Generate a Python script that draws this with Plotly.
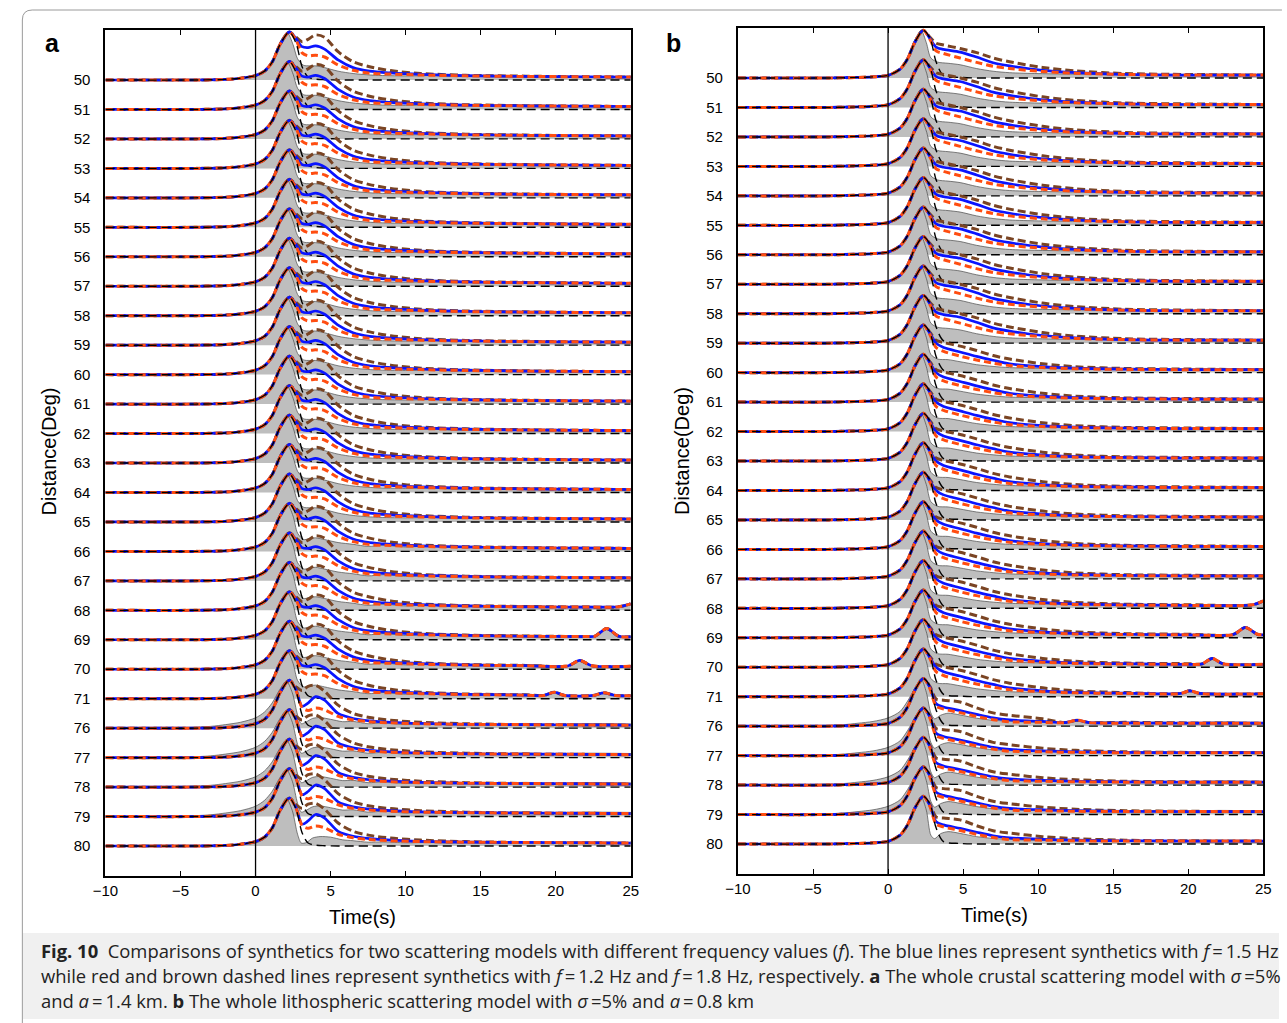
import plotly.graph_objects as go

W, H = 1287, 1023

# ---------------- data ----------------
distances = [50, 51, 52, 53, 54, 55, 56, 57, 58, 59, 60, 61, 62, 63, 64, 65,
             66, 67, 68, 69, 70, 71, 76, 77, 78, 79, 80]
time_ticks = [-10, -5, 0, 5, 10, 15, 20, 25]
time_labels = ["\u221210", "\u22125", "0", "5", "10", "15", "20", "25"]

# ---- panel a : synthetics (amplitude in units of trace spacing) ----
a_rise_t = [-10, -4, -2, -1, 0, 0.6, 1.1, 1.65]
a_rise = [0, 0, 0.02, 0.06, 0.15, 0.3, 0.6, 1.22]
a_tail_t = [2.25, 2.7, 3.1, 3.5, 4.0, 4.6, 5.5, 6.5, 7.6, 9, 11, 14, 18, 22, 25]
a_black = [1.63, 1.25, 0.45, 0.1, 0.03, 0.01, 0, 0, 0, 0, 0, 0, 0, 0, 0]
a_blue_near = [1.63, 1.4, 1.13, 1.1, 1.16, 1.05, 0.68, 0.42, 0.3, 0.24, 0.19, 0.15, 0.12, 0.11, 0.1]
a_blue_far = [1.63, 1.3, 0.74, 0.85, 1.07, 0.95, 0.5, 0.33, 0.25, 0.2, 0.16, 0.13, 0.12, 0.11, 0.1]
a_red_near = [1.63, 1.35, 0.92, 0.82, 0.84, 0.78, 0.51, 0.33, 0.23, 0.2, 0.17, 0.14, 0.12, 0.11, 0.1]
a_red_far = [1.63, 1.28, 0.7, 0.6, 0.68, 0.62, 0.4, 0.28, 0.22, 0.18, 0.15, 0.13, 0.12, 0.11, 0.1]
a_brown_near = [1.63, 1.45, 1.3, 1.38, 1.53, 1.45, 0.96, 0.62, 0.45, 0.32, 0.22, 0.16, 0.13, 0.11, 0.1]
a_brown_far = [1.63, 1.4, 1.28, 1.42, 1.45, 1.25, 0.78, 0.5, 0.36, 0.27, 0.2, 0.15, 0.12, 0.11, 0.1]
a_synth_far = [76, 77, 78, 79, 80]

# ---- panel a : observed envelopes ----
a_gray1_t = [-10, -4, -2, -1, 0, 0.6, 1.1, 1.65, 2.1, 2.5, 2.8, 3.2, 3.6, 4.0, 4.6, 5.5, 6.5, 8, 10, 12, 13, 16, 20, 25]
a_gray1 = [0, 0.01, 0.04, 0.08, 0.17, 0.3, 0.65, 1.3, 1.62, 1.2, 0.72, 0.5, 0.48, 0.48, 0.42, 0.3, 0.22, 0.16, 0.14, 0.15, 0.12, 0.13, 0.11, 0.12]
a_gray2_t = [-10, -4, -2, -1, 0, 0.6, 1.1, 1.65, 2.1, 2.5, 2.8, 3.2, 3.6, 4.0, 4.6, 5.5, 6.5, 7.5, 8.5, 10, 11.5, 13, 14.5, 16, 18, 20, 22, 25]
a_gray2 = [0, 0.01, 0.04, 0.08, 0.17, 0.3, 0.65, 1.3, 1.62, 1.2, 0.62, 0.4, 0.44, 0.46, 0.4, 0.3, 0.24, 0.17, 0.21, 0.15, 0.18, 0.13, 0.17, 0.12, 0.15, 0.12, 0.14, 0.12]
a_gray3_t = [-10, -5, -3, -2, -1, 0, 0.6, 1.1, 1.6, 2.05, 2.45, 2.8, 3.05, 3.4, 3.8, 4.3, 5.0, 5.8, 6.5, 7.5, 8.5, 10, 11.5, 13, 14.5, 16, 18, 20, 22, 25]
a_gray3 = [0, 0.01, 0.06, 0.12, 0.2, 0.35, 0.55, 0.85, 1.3, 1.6, 1.2, 0.45, 0.15, 0.22, 0.33, 0.36, 0.3, 0.22, 0.23, 0.15, 0.18, 0.12, 0.16, 0.11, 0.15, 0.12, 0.16, 0.12, 0.15, 0.14]
a_gray4 = [0, 0, 0.01, 0.03, 0.06, 0.1, 0.25, 0.6, 1.2, 1.62, 1.2, 0.4, 0.1, 0.12, 0.27, 0.32, 0.3, 0.21, 0.18, 0.13, 0.14, 0.11, 0.12, 0.1, 0.12, 0.1, 0.11, 0.1, 0.11, 0.1]
a_gray2_set = [66, 67, 68, 69, 70, 71]
a_gray3_set = [76, 77, 78, 79]
a_gray4_set = [80]

# ---- panel b : synthetics ----
b_rise_t = [-10, -4, -2, -1, 0, 0.8, 1.3, 1.8]
b_rise = [0, 0, 0.02, 0.04, 0.09, 0.3, 0.65, 1.23]
b_tail_t = [2.35, 2.8, 3.2, 3.7, 4.8, 5.9, 7.0, 8.1, 10.3, 12.5, 15.8, 20, 25]
b_black = [1.62, 1.35, 0.55, 0.08, 0.02, 0, 0, 0, 0, 0, 0, 0, 0]
b_blue_top = [1.62, 1.33, 1.05, 0.97, 0.88, 0.71, 0.52, 0.41, 0.26, 0.18, 0.12, 0.1, 0.1]
b_blue_mid = [1.62, 1.32, 1.0, 0.85, 0.7, 0.55, 0.42, 0.3, 0.2, 0.15, 0.12, 0.1, 0.1]
b_blue_far = [1.62, 1.3, 0.76, 0.65, 0.53, 0.4, 0.28, 0.21, 0.16, 0.13, 0.11, 0.1, 0.1]
b_red_top = [1.62, 1.3, 0.92, 0.83, 0.68, 0.53, 0.4, 0.32, 0.22, 0.16, 0.12, 0.1, 0.1]
b_red_mid = [1.62, 1.28, 0.85, 0.72, 0.56, 0.43, 0.32, 0.24, 0.17, 0.13, 0.11, 0.1, 0.1]
b_red_far = [1.62, 1.26, 0.68, 0.58, 0.46, 0.33, 0.22, 0.15, 0.13, 0.11, 0.1, 0.1, 0.1]
b_brown_top = [1.62, 1.38, 1.18, 1.12, 1.0, 0.86, 0.68, 0.55, 0.36, 0.24, 0.15, 0.12, 0.1]
b_brown_mid = [1.62, 1.36, 1.1, 1.02, 0.9, 0.75, 0.58, 0.46, 0.3, 0.2, 0.14, 0.12, 0.1]
b_brown_far = [1.62, 1.34, 0.92, 0.88, 0.82, 0.62, 0.45, 0.37, 0.25, 0.18, 0.13, 0.11, 0.1]
b_synth_mid = [60, 61, 62, 63, 64, 65, 66, 67, 68, 69, 70, 71]
b_synth_far = [76, 77, 78, 79, 80]

# ---- panel b : observed envelopes ----
b_gray1_t = [-10, -4, -2, -1, 0, 0.8, 1.3, 1.8, 2.2, 2.55, 2.85, 3.3, 4.0, 4.8, 5.9, 7.0, 8.1, 10, 13, 16, 20, 25]
b_gray_top = [0, 0.01, 0.03, 0.05, 0.1, 0.32, 0.7, 1.3, 1.62, 1.2, 0.68, 0.54, 0.5, 0.45, 0.32, 0.23, 0.18, 0.15, 0.13, 0.12, 0.11, 0.12]
b_gray_mid = [0, 0.01, 0.03, 0.05, 0.1, 0.32, 0.7, 1.3, 1.62, 1.2, 0.62, 0.46, 0.44, 0.37, 0.27, 0.21, 0.17, 0.15, 0.12, 0.13, 0.11, 0.12]
b_gray3_t = [-10, -5, -3, -2, -1, 0, 0.8, 1.3, 1.8, 2.2, 2.55, 2.85, 3.1, 3.5, 4.0, 4.8, 5.9, 7.0, 8.1, 9.5, 11, 12.5, 14, 16, 18, 20, 22, 25]
b_gray3 = [0, 0.01, 0.05, 0.1, 0.16, 0.28, 0.5, 0.85, 1.3, 1.6, 1.15, 0.45, 0.25, 0.37, 0.44, 0.38, 0.27, 0.2, 0.17, 0.14, 0.16, 0.12, 0.15, 0.11, 0.14, 0.11, 0.14, 0.12]
b_gray4 = [0, 0, 0.01, 0.02, 0.04, 0.08, 0.3, 0.7, 1.28, 1.6, 1.15, 0.3, 0.18, 0.35, 0.42, 0.36, 0.25, 0.19, 0.16, 0.13, 0.14, 0.11, 0.13, 0.1, 0.12, 0.1, 0.11, 0.1]
b_gray_mid_set = [60, 61, 62, 63, 64, 65, 66, 67, 68, 69, 70, 71]
b_gray3_set = [76, 77, 78, 79]
b_gray4_set = [80]

# late arrivals seen on individual traces: (time, amplitude)
a_late = {
    68: [(24.2, 0.12), (25, 0.22)],
    69: [(22.6, 0.12), (23.4, 0.38), (24.2, 0.12)],
    70: [(20.8, 0.11), (21.6, 0.3), (22.4, 0.12)],
    71: [(19.2, 0.11), (19.9, 0.22), (20.6, 0.11), (22.5, 0.11), (23.2, 0.2), (24.0, 0.11)],
}
b_late = {
    68: [(24.3, 0.12), (25, 0.25)],
    69: [(23.0, 0.11), (23.8, 0.35), (24.6, 0.12)],
    70: [(20.9, 0.11), (21.6, 0.3), (22.3, 0.12)],
    71: [(19.5, 0.11), (20.1, 0.2), (20.8, 0.11)],
    76: [(11.8, 0.12), (12.6, 0.2), (13.4, 0.12)],
}

# ---------------- helpers ----------------
def merge(times, amps, extra):
    if not extra:
        return list(times), list(amps)
    lo, hi = extra[0][0], extra[-1][0]
    pts = [(t, a) for t, a in zip(times, amps) if t < lo or t > hi] + list(extra)
    pts.sort()
    return [p[0] for p in pts], [p[1] for p in pts]


GRAY_FILL = "#BEBEBE"
GRAY_LINE = "#4a4a4a"
BLUE = "#0A14FF"
RED = "#FF4D10"
BROWN = "#7A4423"

fig = go.Figure()


def add_trace_set(xa, ya, base, gray_t, gray_a, rise_t, rise, tail_t, black, blue, red, brown, late):
    gt, ga = merge(gray_t, gray_a, late)
    fig.add_trace(go.Scatter(x=[-10, 25], y=[base, base], mode="lines",
                             line=dict(width=0, color=GRAY_FILL), hoverinfo="skip",
                             showlegend=False, xaxis=xa, yaxis=ya))
    fig.add_trace(go.Scatter(x=gt, y=[base + v for v in ga], mode="lines",
                             line=dict(color=GRAY_LINE, width=0.7, shape="spline", smoothing=0.8),
                             fill="tonexty", fillcolor=GRAY_FILL, hoverinfo="skip",
                             showlegend=False, xaxis=xa, yaxis=ya))
    st = rise_t + tail_t
    for vals, color, width, dash, use_late in [
        (brown, BROWN, 3.0, "8px,4px", True),
        (blue, BLUE, 2.7, "solid", True),
        (red, RED, 3.0, "7px,4px", True),
        (black, "black", 1.4, "9px,5px", False),
    ]:
        tt, vv = merge(st, rise + vals, late if use_late else None)
        fig.add_trace(go.Scatter(x=tt, y=[base + v for v in vv], mode="lines",
                                 line=dict(color=color, width=width, dash=dash,
                                           shape="spline", smoothing=0.8),
                                 hoverinfo="skip", showlegend=False, xaxis=xa, yaxis=ya))


for k, d in enumerate(distances):
    base = -k
    if d in a_gray4_set:
        gt, ga = a_gray3_t, a_gray4
    elif d in a_gray3_set:
        gt, ga = a_gray3_t, a_gray3
    elif d in a_gray2_set:
        gt, ga = a_gray2_t, a_gray2
    else:
        gt, ga = a_gray1_t, a_gray1
    if d in a_synth_far:
        blue, red, brown = a_blue_far, a_red_far, a_brown_far
    else:
        blue, red, brown = a_blue_near, a_red_near, a_brown_near
    add_trace_set("x", "y", base, gt, ga, a_rise_t, a_rise, a_tail_t, a_black,
                  blue, red, brown, a_late.get(d))
for k, d in enumerate(distances):
    base = -k
    if d in b_gray4_set:
        gt, ga = b_gray3_t, b_gray4
    elif d in b_gray3_set:
        gt, ga = b_gray3_t, b_gray3
    elif d in b_gray_mid_set:
        gt, ga = b_gray1_t, b_gray_mid
    else:
        gt, ga = b_gray1_t, b_gray_top
    if d in b_synth_far:
        blue, red, brown = b_blue_far, b_red_far, b_brown_far
    elif d in b_synth_mid:
        blue, red, brown = b_blue_mid, b_red_mid, b_brown_mid
    else:
        blue, red, brown = b_blue_top, b_red_top, b_brown_top
    add_trace_set("x2", "y2", base, gt, ga, b_rise_t, b_rise, b_tail_t, b_black,
                  blue, red, brown, b_late.get(d))


def px(x):
    return x / W


def py(y):
    return 1 - y / H


yrange = [-(len(distances) - 1) - 1.018, 1.697]
tickfont = dict(family="Liberation Sans, Arial, sans-serif", size=15, color="black")

xcommon = dict(range=[-10, 25], tickvals=time_ticks, ticktext=time_labels, ticks="inside",
               ticklen=5, tickwidth=1, tickcolor="black", showline=True, linewidth=2,
               linecolor="black", mirror="ticks", showgrid=False, zeroline=False,
               tickfont=tickfont, fixedrange=True)
ycommon = dict(range=yrange, tickvals=[-k for k in range(len(distances))],
               ticktext=[str(d) for d in distances], ticks="", showline=True, linewidth=2,
               linecolor="black", mirror=True, showgrid=False, zeroline=False,
               tickfont=tickfont, ticklabelstandoff=10, fixedrange=True)

fig.update_layout(
    width=W, height=H, margin=dict(l=0, r=0, t=0, b=0),
    paper_bgcolor="white", plot_bgcolor="white", showlegend=False,
    xaxis=dict(domain=[px(94), px(628)], anchor="y", **xcommon),
    yaxis=dict(domain=[py(876), py(30)], anchor="x", **ycommon),
    xaxis2=dict(domain=[px(737), px(1271)], anchor="y2", **xcommon),
    yaxis2=dict(domain=[py(874), py(28)], anchor="x2", **ycommon),
)

shapes = []
shapes.append(dict(type="rect", xref="paper", yref="paper", x0=px(10), x1=1.0,
                   y0=py(1019), y1=py(933), fillcolor="#F0F0F0", line=dict(width=0), layer="below"))
r = 10
shapes.append(dict(type="path", xref="paper", yref="paper",
                   path=(f"M {px(9.5)},{py(1023)} L {px(9.5)},{py(10 + r)} "
                         f"Q {px(9.5)},{py(10)} {px(9.5 + r)},{py(10)} L {px(1290)},{py(10)}"),
                   line=dict(color="#9a9a9a", width=1), layer="above"))
for xr, yr in [("x", "y domain"), ("x2", "y2 domain")]:
    shapes.append(dict(type="line", xref=xr, yref=yr, x0=0, x1=0, y0=0, y1=1,
                       line=dict(color="black", width=1.3), layer="above"))
fig.update_layout(shapes=shapes)

lab = dict(family="Liberation Sans, Arial, sans-serif", size=20, color="black")
ann = []


def label(x, y, text, font, angle=0):
    ann.append(dict(x=px(x), y=py(y), xref="paper", yref="paper", text=text, showarrow=False,
                    xanchor="center", yanchor="middle", textangle=angle, font=font))


big = dict(family="Liberation Sans, Arial, sans-serif", size=25, color="black")
label(40, 43, "<b>a</b>", big)
label(671, 43, "<b>b</b>", big)
label(355, 917, "Time(s)", lab)
label(998, 915, "Time(s)", lab)
label(37, 451, "Distance(Deg)", lab, -90)
label(680, 451, "Distance(Deg)", lab, -90)

cap_font = dict(family="Open Sans, Noto Sans, sans-serif", size=18.4, color="#222222")
cap_lines = [
    "<b>Fig. 10</b>  Comparisons of synthetics for two scattering models with different frequency values (<i>f</i>). "
    "The blue lines represent synthetics with <i>f</i>\u2009=\u20091.5 Hz",
    "while red and brown dashed lines represent synthetics with <i>f</i>\u2009=\u20091.2 Hz and <i>f</i>\u2009=\u20091.8 Hz, "
    "respectively. <b>a</b> The whole crustal scattering model with <i>\u03c3</i>\u2009=5%",
    "and <i>a</i>\u2009=\u20091.4 km. <b>b</b> The whole lithospheric scattering model with <i>\u03c3</i>\u2009=5% "
    "and <i>a</i>\u2009=\u20090.8 km",
]
for i, line in enumerate(cap_lines):
    ann.append(dict(x=px(26), y=py(950 + 25 * i), xref="paper", yref="paper", text=line,
                    showarrow=False, xanchor="left", yanchor="middle", font=cap_font))
fig.update_layout(annotations=ann)

fig.write_html("out.html")
